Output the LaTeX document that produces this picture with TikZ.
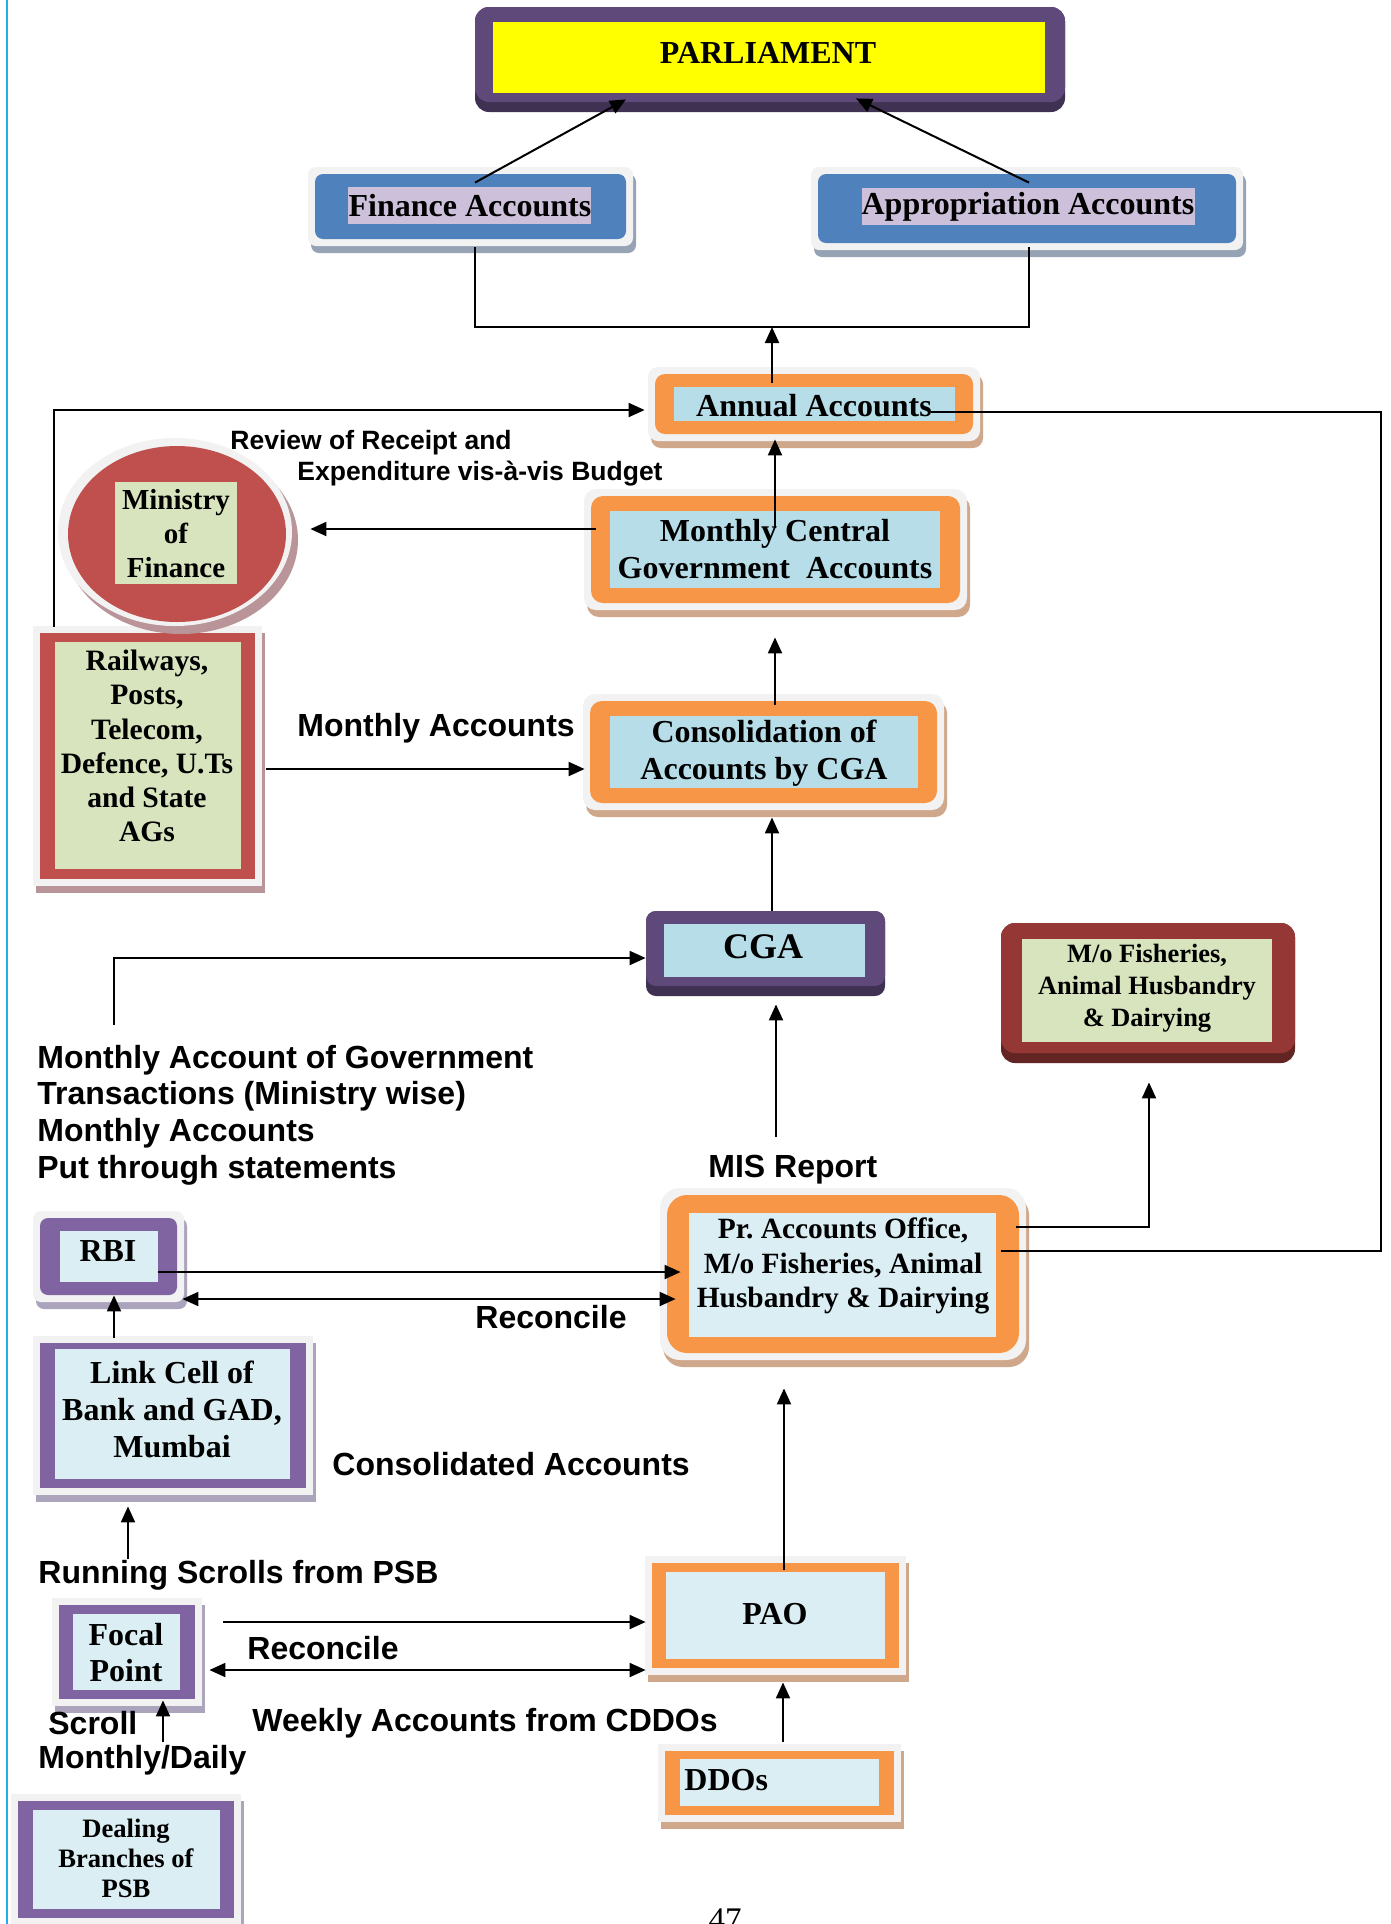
\documentclass[tikz,border=0pt]{standalone}
\usepackage{fontspec}
\setmainfont{Liberation Serif}
\setsansfont{Liberation Sans}
\usetikzlibrary{arrows.meta,fit,calc}
\frenchspacing

\definecolor{halo}{HTML}{F2F2F2}
\definecolor{parlB}{HTML}{5F497A}\definecolor{parlS}{HTML}{3F3151}\definecolor{parlI}{HTML}{FFFF00}
\definecolor{finB}{HTML}{4F81BD}\definecolor{finI}{HTML}{CCC0DA}\definecolor{finS}{HTML}{95A3B4}
\definecolor{orgB}{HTML}{F79646}\definecolor{orgI}{HTML}{B7DEE8}\definecolor{orgS}{HTML}{CFA78A}
\definecolor{orgLB}{HTML}{F79646}\definecolor{orgLI}{HTML}{DAEEF3}\definecolor{orgLS}{HTML}{CFA78A}
\definecolor{redB}{HTML}{C0504D}\definecolor{redI}{HTML}{D7E4BD}\definecolor{redS}{HTML}{B99499}
\definecolor{purB}{HTML}{8064A2}\definecolor{purI}{HTML}{DAEEF3}\definecolor{purS}{HTML}{ACA3BD}
\definecolor{cgaB}{HTML}{5F497A}\definecolor{cgaI}{HTML}{B7DEE8}\definecolor{cgaS}{HTML}{3F3151}
\definecolor{fishB}{HTML}{953735}\definecolor{fishI}{HTML}{D7E4BD}\definecolor{fishS}{HTML}{632523}
\definecolor{cyanline}{HTML}{21AEE6}

% layered box with halo and shadow
\newcommand\tribox[7][0pt]{%
  \fill[#3S, rounded corners=#1] ([xshift=-2pt]#4) rectangle ([xshift=5pt,yshift=-7pt]#5);
  \fill[halo, rounded corners=#1] ([xshift=-3.5pt,yshift=3.5pt]#4) rectangle ([xshift=3.5pt,yshift=-3.5pt]#5);
  \fill[#3B, rounded corners=#1] (#4) rectangle (#5);
  \fill[#3I] (#6) rectangle (#7);
  \node[fit={(#4)(#5)}, inner sep=0pt] (#2) {};
}
% box with dark bottom band
\newcommand\dkbox[7][0pt]{%
  \fill[#3S, rounded corners=#1] (#4) rectangle (#5);
  \fill[#3B, rounded corners=#1] (#4) rectangle ([yshift=5pt]#5);
  \fill[#3I] (#6) rectangle (#7);
  \node[fit={(#4)(#5)}, inner sep=0pt] (#2) {};
}

\begin{document}
\begin{tikzpicture}[x=0.5pt,y=-0.5pt,
  bt/.style={font=\bfseries\fontsize{16pt}{18.5pt}\selectfont, align=center, inner sep=0pt},
  lbl/.style={font=\sffamily\bfseries\fontsize{16pt}{18.3pt}\selectfont, align=left, inner sep=0pt, anchor=west},
  arr/.style={-{Triangle[length=8pt,width=7pt]}, line width=1pt},
  dbl/.style={{Triangle[length=8pt,width=7pt]}-{Triangle[length=8pt,width=7pt]}, line width=1pt},
  ln/.style={line width=1pt}]

\useasboundingbox (0,0) rectangle (1391,1924);
\fill[white] (0,0) rectangle (1391,1924);
\draw[cyanline, line width=1pt] (7,0) -- (7,1924);

% ---------- boxes ----------
\dkbox[7pt]{parl}{parl}{475,7}{1065,112}{493,22}{1045,93}
\tribox[4pt]{fin}{fin}{315,174}{626,239}{348,187}{591,224}
\tribox[4pt]{app}{fin}{818,174}{1236,243}{862,188}{1195,225}
\tribox[5pt]{ann}{org}{655,374}{973,434}{674,387}{955,421}
\tribox[6pt]{mcga}{org}{591,496}{960,603}{610,511}{940,588}
\tribox[6pt]{cons}{org}{590,701}{937,803}{610,716}{918,788}
\tribox{rail}{red}{40,633}{255,879}{55,642}{241,869}
\dkbox[5pt]{cga}{cga}{646,911}{885,996}{664,924}{865,977}
\dkbox[7pt]{fish}{fish}{1001,923}{1295,1063}{1022,939}{1272,1042}
\tribox[10pt]{pr}{orgL}{667,1195}{1019,1353}{689,1213}{996,1337}
\tribox[4pt]{rbi}{pur}{40,1218}{177,1295}{60,1231}{158,1282}
\tribox{link}{pur}{40,1343}{306,1488}{55,1349}{290,1479}
\tribox{focal}{pur}{59,1605}{195,1699}{73,1614}{180,1690}
\tribox{pao}{orgL}{652,1563}{899,1668}{666,1572}{885,1659}
\tribox{ddo}{orgL}{665,1751}{894,1815}{680,1759}{879,1806}
\tribox{deal}{pur}{18,1801}{234,1918}{33,1810}{220,1909}

% Ministry of Finance ellipse
\fill[redS] (181,540) ellipse [x radius=58.5pt, y radius=47pt];
\fill[halo] (175,532) ellipse [x radius=58.5pt, y radius=47pt];
\fill[redB] (177,534) ellipse [x radius=54.5pt, y radius=44pt];
\fill[redI] (115,482) rectangle (237,584);
\node[fit={(68,446)(286,622)}, inner sep=0pt] (mof) {};

% ---------- box texts ----------
\node[bt] (parl-t) at (768,53) {PARLIAMENT};
\node[bt] (fin-t) at (470,206) {Finance Accounts};
\node[bt] (app-t) at (1028,207) {Appropriation Accounts};
\node[bt] (ann-t) at (814,406) {Annual Accounts};
\node[bt] (mcga-t) at (775,549) {Monthly Central\\Government\ \ Accounts};
\node[bt] (cons-t) at (764,753) {Consolidation of\\Accounts by CGA};
\node[bt, font=\bfseries\fontsize{18pt}{20pt}\selectfont] (cga-t) at (763,947) {CGA};
\node[bt, font=\bfseries\fontsize{14.5pt}{17pt}\selectfont] (mof-t) at (176,534) {Ministry\\of\\Finance};
\node[bt, font=\bfseries\fontsize{14.8pt}{17.1pt}\selectfont] (rail-t) at (147,746) {Railways,\\Posts,\\Telecom,\\Defence, U.Ts\\and State\\AGs};
\node[bt, font=\bfseries\fontsize{13.2pt}{16pt}\selectfont] (fish-t) at (1147,988) {M/o Fisheries,\\Animal Husbandry\\\& Dairying};
\node[bt, font=\bfseries\fontsize{14.7pt}{17.25pt}\selectfont] (pr-t) at (843,1266) {Pr. Accounts Office,\\M/o Fisheries, Animal\\Husbandry \& Dairying};
\node[bt] (rbi-t) at (108,1251) {RBI};
\node[bt] (link-t) at (172,1409) {Link Cell of\\Bank and GAD,\\Mumbai};
\node[bt, font=\bfseries\fontsize{16pt}{18pt}\selectfont] (focal-t) at (126,1653) {Focal\\Point};
\node[bt] (pao-t) at (775,1614) {PAO};
\node[bt, anchor=west] (ddo-t) at (684,1780) {DDOs};
\node[bt, font=\bfseries\fontsize{13.3pt}{15pt}\selectfont] (deal-t) at (126,1858) {Dealing\\Branches of\\PSB};
\node[inner sep=0pt, anchor=base, font=\fontsize{16.5pt}{18pt}\selectfont] (pg) at (725,1930) {47};

% ---------- labels ----------
\node[lbl, font=\sffamily\bfseries\fontsize{13.25pt}{15pt}\selectfont] (rev1) at (230,443) {Review of Receipt and};
\node[lbl, font=\sffamily\bfseries\fontsize{13.25pt}{15pt}\selectfont] (rev2) at (297,474) {Expenditure vis-à-vis Budget};
\node[lbl] (ma) at (297,728) {Monthly Accounts};
\node[lbl] (blk) at (37,1115) {Monthly Account of Government\\Transactions (Ministry wise)\\Monthly Accounts\\Put through statements};
\node[lbl] (mis) at (708,1170) {MIS Report};
\node[lbl] (rec1) at (475,1317) {Reconcile};
\node[lbl] (conacc) at (332,1464) {Consolidated Accounts};
\node[lbl] (run) at (38,1575) {Running Scrolls from PSB};
\node[lbl] (rec2) at (247,1648) {Reconcile};
\node[lbl] (scr) at (48,1723) {Scroll};
\node[lbl] (md) at (38,1760) {Monthly/Daily};
\node[lbl] (wk) at (252,1723) {Weekly Accounts from CDDOs};

% ---------- connectors ----------
\coordinate (bar) at (772,327);
\coordinate (rc) at (1381,412);
\coordinate (c12) at (114,1025);
\coordinate (c19) at (128,1559);

\draw[arr] ($(fin.north)+(4.5,9)$) -- ($(parl.south)+(-144,-13)$);
\draw[arr] ($(app.north)+(2,9)$) -- ($(parl.south)+(86,-14)$);
\draw[ln] ($(fin.south)+(4.5,8)$) |- (bar) -| ($(app.south)+(2,4)$);
\draw[arr] ($(ann.north)+(-42,9)$) -- (bar);
\draw[ln] ($(pr.east)+(-18,-23)$) -| (rc) -- ($(ann.east)+(-42,8)$);
\draw[arr] ($(rail.north)+(-93.5,-6)$) |- ($(ann.west)+(-10,6)$);
\draw[arr] ($(mcga.north)+(-0.5,32)$) -- ($(ann.south)+(-39,5)$);
\draw[arr] ($(mcga.west)+(5,-20.5)$) -- ($(mof.east)+(24,-5)$);
\draw[arr] ($(cons.north)+(11.5,4)$) -- ($(mcga.south)+(-0.5,34)$);
\draw[arr] ($(rail.east)+(11,13)$) -- ($(cons.west)+(-5,17)$);
\draw[arr] ($(cga.north)+(6.5,0)$) -- ($(cons.south)+(8.5,14)$);
\draw[arr] (c12) |- ($(cga.west)+(0,4.5)$);
\draw[arr] ($(pr.north)+(-67,-58)$) -- ($(cga.south)+(10.5,8)$);
\draw[arr] ($(pr.east)+(-3,-47)$) -| ($(fish.south)+(1,19)$);
\draw[arr] ($(rbi.east)+(-19,15.5)$) -- ($(pr.west)+(14,-2)$);
\draw[dbl] ($(rbi.east)+(5,42.5)$) -- ($(pr.west)+(9,25)$);
\draw[arr] ($(link.north)+(-59,-5)$) -- ($(rbi.south)+(5.5,0)$);
\draw[arr] ($(pao.north)+(8.5,7)$) -- ($(pr.south)+(-59,35)$);
\draw[arr] (c19) -- ($(link.south)+(-45,18)$);
\draw[arr] ($(focal.east)+(28,-30)$) -- ($(pao.west)+(-6,6.5)$);
\draw[dbl] ($(focal.east)+(14,18)$) -- ($(pao.west)+(-6,54.5)$);
\draw[arr] ($(focal.south)+(36,43)$) -- ($(focal.south)+(36,1)$);
\draw[arr] ($(ddo.north)+(3.5,-9)$) -- ($(pao.south)+(7.5,14)$);

\end{tikzpicture}
\end{document}
